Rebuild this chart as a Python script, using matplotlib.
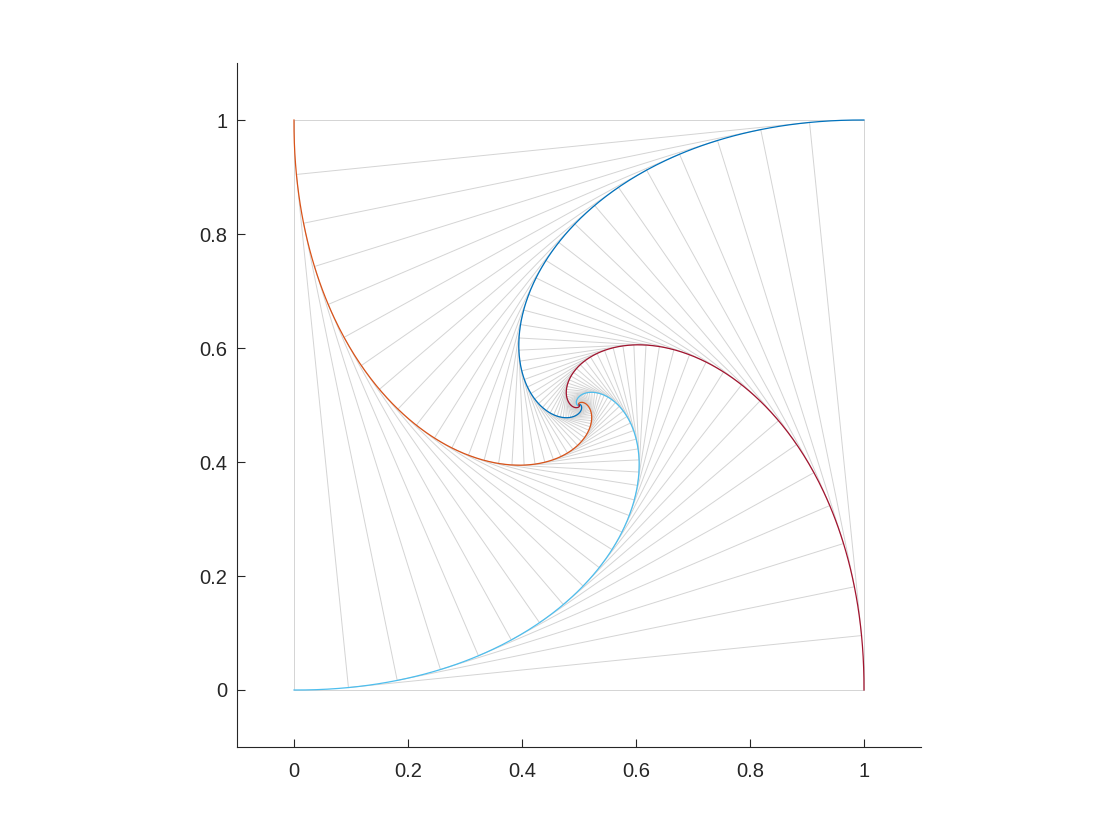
import numpy as np
import matplotlib
matplotlib.use("Agg")
import matplotlib.pyplot as plt

# four bugs start at the corners of the unit square, each chasing the next one
start_x = [1.0, 0.0, 0.0, 1.0]
start_y = [1.0, 1.0, 0.0, 0.0]
colors = ["#0072BD", "#D95319", "#4DBEEE", "#A2142F"]
step = 0.01          # fraction of the distance moved per step
n_steps = 900
grey_every = 10      # draw the square every this many steps

tick_values = [0, 0.2, 0.4, 0.6, 0.8, 1]
tick_labels = ["0", "0.2", "0.4", "0.6", "0.8", "1"]

# pursuit
pts = np.array([start_x, start_y]).T
hist = [pts.copy()]
for i in range(n_steps):
    target = np.roll(pts, -1, axis=0)
    pts = pts + step * (target - pts)
    hist.append(pts.copy())
hist = np.array(hist)  # (steps, 4, 2)

plt.rcParams['font.family'] = ['Liberation Sans', 'DejaVu Sans']
fig = plt.figure(figsize=(11.2, 8.4), dpi=100)
ax = fig.add_axes([0.2116, 0.1107, 0.6107, 0.8143])

for k in range(0, len(hist), grey_every):
    sq = np.vstack([hist[k], hist[k][:1]])
    ax.plot(sq[:, 0], sq[:, 1], color="#d4d4d4", lw=0.7, zorder=1)

for j in range(4):
    ax.plot(hist[:, j, 0], hist[:, j, 1], color=colors[j], lw=0.9, zorder=2)

ax.set_xlim(-0.1, 1.1)
ax.set_ylim(-0.1, 1.1)
ax.set_aspect('equal')
ax.set_xticks(tick_values)
ax.set_xticklabels(tick_labels)
ax.set_yticks(tick_values)
ax.set_yticklabels(tick_labels)
for s in ['top', 'right']:
    ax.spines[s].set_visible(False)
for s in ['left', 'bottom']:
    ax.spines[s].set_color('#262626')
    ax.spines[s].set_linewidth(0.8)
ax.tick_params(direction='in', length=6, width=0.8, colors='#262626',
               labelsize=14.5)
ax.tick_params(axis='y', pad=7)
ax.tick_params(axis='x', pad=11)

fig.savefig("out.png", dpi=100)
